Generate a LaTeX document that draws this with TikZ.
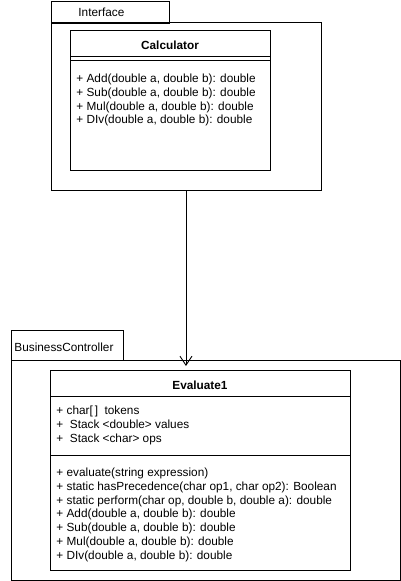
\documentclass[tikz,border=0pt]{standalone}
\usepackage{fontspec}
\setmainfont{Liberation Sans}
\usetikzlibrary{arrows.meta}

\tikzset{
  pkgbox/.style={draw,anchor=north west,inner sep=0pt},
  umltext/.style={anchor=base west,inner sep=0pt,font=\fontsize{11.8}{13}\selectfont},
  umltitle/.style={anchor=base,inner sep=0pt,font=\fontsize{11.8}{13}\selectfont\bfseries},
}

\begin{document}
\begin{tikzpicture}[x=1pt,y=-1pt,line width=0.9pt]
  \useasboundingbox (0,0) rectangle (401,581);
  % package Interface
  \node[pkgbox,minimum width=118pt,minimum height=22pt] (ifacetab) at (50.5,0.5) {};
  \node[pkgbox,minimum width=270pt,minimum height=168pt] (iface) at (50.5,22) {};
  \node[umltext] (ifacename) at (78,16) {Interface};
  % class Calculator
  \node[pkgbox,minimum width=200pt,minimum height=140pt] (calc) at (70,30) {};
  \draw (calc.west |- 0,56) -- (calc.east |- 0,56);
  \draw (calc.west |- 0,60) -- (calc.east |- 0,60);
  \node[umltitle] (calcname) at (170,49) {Calculator};
  \node[umltext] (calcadd) at (76,82) {+ Add(double a, double b): double};
  \node[umltext] (calcsub) at (76,96) {+ Sub(double a, double b): double};
  \node[umltext] (calcmul) at (76,110) {+ Mul(double a, double b): double};
  \node[umltext] (calcdiv) at (76,123) {+ DIv(double a, double b): double};

  % package BusinessController
  \node[pkgbox,minimum width=112pt,minimum height=30pt] (bctab) at (10.5,330) {};
  \node[pkgbox,minimum width=389pt,minimum height=220pt] (bc) at (10.5,360) {};
  \node[umltext] (bcname) at (14,351) {BusinessController};
  % class Evaluate1
  \node[pkgbox,minimum width=300pt,minimum height=200pt] (eval) at (50,370) {};
  \draw (eval.west |- 0,396) -- (eval.east |- 0,396);
  \draw (eval.west |- 0,455) -- (eval.east |- 0,455);
  \node[umltitle] (evalname) at (200,389) {Evaluate1};
  \node[umltext] (evaltok) at (56,414) {+ char[\,]\ \ tokens};
  \node[umltext] (evalval) at (56,428) {+\ \ Stack <double> values};
  \node[umltext] (evalops) at (56,442) {+\ \ Stack <char> ops};
  \node[umltext] (evalexpr) at (56,476) {+ evaluate(string expression)};
  \node[umltext] (evalprec) at (56,490) {+ static hasPrecedence(char op1, char op2): Boolean};
  \node[umltext] (evalperf) at (56,504) {+ static perform(char op, double b, double a): double};
  \node[umltext] (evaladd) at (56,517) {+ Add(double a, double b): double};
  \node[umltext] (evalsub) at (56,531) {+ Sub(double a, double b): double};
  \node[umltext] (evalmul) at (56,545) {+ Mul(double a, double b): double};
  \node[umltext] (evaldiv) at (56,559) {+ DIv(double a, double b): double};

  % dependency
  \coordinate (arrowend) at (iface.south |- 0,366);
  \draw[-{Straight Barb[length=9pt,width=12pt]}] (iface.south) -- (arrowend);
\end{tikzpicture}
\end{document}
